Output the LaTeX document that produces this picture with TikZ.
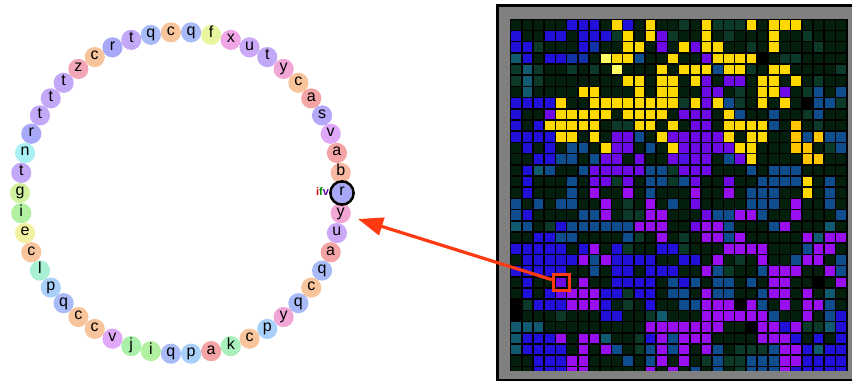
\documentclass[tikz,border=0pt]{standalone}
\usepackage{fontspec}
\setmainfont{Liberation Sans}
\usepackage{tikz}
\usetikzlibrary{arrows.meta,calc}

\definecolor{genea}{HTML}{F4A4A4}
\definecolor{geneb}{HTML}{F8B8A2}
\definecolor{genec}{HTML}{F8C49C}
\definecolor{genee}{HTML}{F4F0A2}
\definecolor{genef}{HTML}{E8F6A0}
\definecolor{geneg}{HTML}{D2F2A0}
\definecolor{genei}{HTML}{B2F0A2}
\definecolor{genej}{HTML}{AAF0AA}
\definecolor{genek}{HTML}{AAF0BC}
\definecolor{genel}{HTML}{A8F0D2}
\definecolor{genen}{HTML}{A8F0F2}
\definecolor{genep}{HTML}{A8D0F8}
\definecolor{geneq}{HTML}{A8BAF8}
\definecolor{gener}{HTML}{A8A8F8}
\definecolor{genes}{HTML}{B4A8F8}
\definecolor{genet}{HTML}{C4A8F8}
\definecolor{geneu}{HTML}{CCA8F8}
\definecolor{genev}{HTML}{E0A8F8}
\definecolor{genex}{HTML}{F0A6E6}
\definecolor{geney}{HTML}{F2A6D6}
\definecolor{genez}{HTML}{F2A6B8}

\definecolor{cellk}{HTML}{04200C}
\definecolor{celld}{HTML}{0B3A28}
\definecolor{cellt}{HTML}{125A70}
\definecolor{cells}{HTML}{0F4E8E}
\definecolor{celln}{HTML}{1232A8}
\definecolor{cellb}{HTML}{2010D8}
\definecolor{cellp}{HTML}{6E0AE6}
\definecolor{cellm}{HTML}{9A0FF0}
\definecolor{cellv}{HTML}{4E10E0}
\definecolor{celly}{HTML}{FFD800}
\definecolor{celll}{HTML}{FFFF66}
\definecolor{cello}{HTML}{FFC400}
\definecolor{cellx}{HTML}{000000}
\definecolor{dishgray}{HTML}{808080}
\definecolor{arrowred}{HTML}{FF3A12}

\begin{document}
\begin{tikzpicture}[x=1pt,y=-1pt,
    genebead/.style={circle,inner sep=0pt,minimum size=20.2pt,
      font=\fontsize{16}{16}\selectfont,text height=8.6pt,text depth=2.8pt},
    dishcell/.style={fill=cell#1},
    pointer/.style={draw=arrowred,line width=3.2pt,
      -{Triangle[length=25pt,width=18pt]}}]
  \useasboundingbox (0,0) rectangle (852,381);

  \begin{scope}[shift={(181,193)}]
    \foreach \l [count=\i from 0] in {g,t,n,r,t,t,t,z,c,r,t,q,c,q,f,x,u,t,y,c,
        a,s,v,a,b,r,y,u,a,q,c,q,y,p,c,k,a,p,q,i,j,v,c,c,q,p,l,c,e,i}
      \node[genebead,fill=gene\l] (G\i) at ({180+7.2*\i}:161) {\l};
  \end{scope}
  \draw[line width=2.6pt] (G25) circle (11.6);
  \node[anchor=east,inner sep=0pt,font=\fontsize{11}{11}\selectfont\bfseries]
    (ifv) at ($(G25.west)+(-2.5,-1)$)
    {\textcolor{red!85!black}{i}\textcolor{green!55!black}{f}\textcolor{blue!65!red}{v}};

  \fill[black] (495.5,4) rectangle (860,381);
  \fill[dishgray] (498.5,6.5) rectangle (860,378.5);
  \fill[black] (510,18.8) rectangle (848,370.6);
  \begin{scope}
    \clip (510,18.8) rectangle (848,370.6);
    \foreach \line [count=\r from 0] in {
      {k,k,k,k,k,b,b,b,k,y, b,k,y,k,k,d,k,y,d,d, d,y,k,y,y,y,k,k,k,k},
      {b,k,k,b,b,k,b,b,b,d, y,k,y,p,d,k,k,y,k,d, k,k,k,y,k,k,d,k,k,k},
      {b,b,d,k,k,k,b,n,k,k, y,y,k,p,k,y,p,y,y,k, k,d,k,y,k,k,k,d,k,k},
      {t,b,k,b,b,n,n,k,l,y, y,s,k,k,y,k,k,p,y,y, y,y,x,k,d,d,k,k,k,k},
      {d,t,d,k,k,d,k,d,k,l, k,k,k,y,k,y,y,y,s,y, y,d,k,y,y,k,k,k,k,d},
      {d,t,d,k,k,k,k,k,k,k, y,y,k,y,y,k,y,p,k,p, p,k,y,y,k,y,k,d,k,k},
      {k,t,k,k,k,k,y,y,k,k, k,y,k,y,y,k,k,p,p,k, d,k,y,y,p,k,d,s,k,s},
      {b,b,b,b,y,k,k,y,y,y, y,y,y,y,y,d,y,p,y,s, d,k,y,k,y,k,x,s,s,d},
      {b,k,k,p,y,y,y,y,y,k, y,y,y,y,k,p,p,p,k,y, s,k,k,s,k,k,d,s,k,k},
      {b,k,b,y,y,y,y,y,k,d, d,y,y,k,y,k,p,p,k,y, y,y,y,s,k,o,k,d,k,k},
      {b,b,b,b,y,y,k,y,k,p, p,s,k,y,p,p,p,p,p,y, k,y,y,k,k,o,s,o,s,s},
      {k,b,k,b,k,s,s,k,y,p, p,k,s,k,y,p,p,p,p,p, y,y,k,k,k,o,o,k,d,s},
      {k,k,b,b,s,s,k,s,p,p, k,p,k,k,p,v,p,p,k,s, p,y,k,k,k,k,o,o,k,k},
      {k,b,t,s,k,k,s,p,p,p, p,p,s,s,d,p,p,p,k,k, k,s,k,s,s,s,k,k,k,k},
      {k,b,k,k,k,s,k,p,p,d, p,k,s,s,d,s,p,k,k,p, k,k,s,s,s,s,y,k,s,k},
      {k,b,k,k,k,s,k,m,k,k, m,k,s,k,k,k,m,k,k,m, k,s,s,s,k,k,y,k,s,k},
      {s,k,s,k,s,s,k,k,m,k, d,k,m,k,s,k,p,k,k,k, k,s,s,s,k,m,k,k,s,k},
      {s,b,k,k,k,k,s,s,m,k, d,d,m,m,k,k,k,p,s,s, m,m,s,k,k,m,k,k,k,s},
      {t,s,k,d,b,s,s,s,s,s, s,m,m,m,k,k,p,m,m,s, k,k,k,s,m,k,k,k,t,k},
      {k,k,b,b,s,s,k,k,k,k, s,d,k,m,k,d,k,m,m,s, m,k,k,k,k,k,m,t,m,m},
      {b,b,b,b,b,k,b,m,k,b, d,k,k,b,b,d,k,k,k,m, m,m,m,k,k,k,s,m,m,k},
      {k,b,b,b,b,b,m,s,m,b, b,b,b,k,k,b,b,k,m,k, d,k,m,k,k,s,m,m,k,s},
      {b,b,b,b,b,k,k,s,k,b, b,k,b,b,b,k,k,m,s,d, k,k,s,m,m,m,k,k,m,s},
      {k,b,k,k,p,k,m,k,k,b, b,b,b,k,s,b,s,k,s,s, k,s,k,m,m,k,k,x,k,m},
      {k,b,k,b,p,m,m,m,b,b, d,b,b,k,s,s,k,m,s,s, k,k,s,m,m,k,m,k,t,k},
      {x,d,b,b,b,m,m,m,b,k, d,k,b,k,k,s,s,m,m,m, x,m,s,k,m,k,m,m,s,k},
      {x,k,k,k,d,k,k,k,b,b, k,k,d,t,k,k,k,m,m,m, m,m,m,s,k,k,m,k,s,b},
      {t,t,t,k,k,k,k,k,k,k, k,k,m,m,m,m,m,m,m,k, k,x,m,m,b,m,d,d,t,b},
      {t,b,b,b,m,k,m,m,t,k, k,d,b,m,s,m,m,m,k,k, k,k,m,m,m,b,k,b,k,b},
      {t,b,b,b,b,k,m,k,m,s, k,d,s,m,s,m,k,m,s,k, d,d,d,s,m,m,b,t,b,b},
      {k,k,b,b,b,m,m,k,k,k, s,k,s,m,k,m,k,d,s,d, d,s,s,s,m,m,b,b,b,b},
      {k,k,b,b,b,m,m,k,k,k, k,k,m,k,m,k,s,k,s,k, d,s,s,s,m,b,b,b,b,b}}
      \foreach \c [count=\q from 0] in \line
        \fill[dishcell=\c] ({511.4+\q*11.2},{20+\r*11.2}) rectangle +(9.5,9.5);
  \end{scope}

  \node[draw=arrowred,line width=2.6pt,minimum size=16pt,inner sep=0pt] (pick)
    at (561.2,282.6) {};
  \coordinate (tip) at (358,219);
  \draw[pointer] (pick) -- (tip);
\end{tikzpicture}
\end{document}
